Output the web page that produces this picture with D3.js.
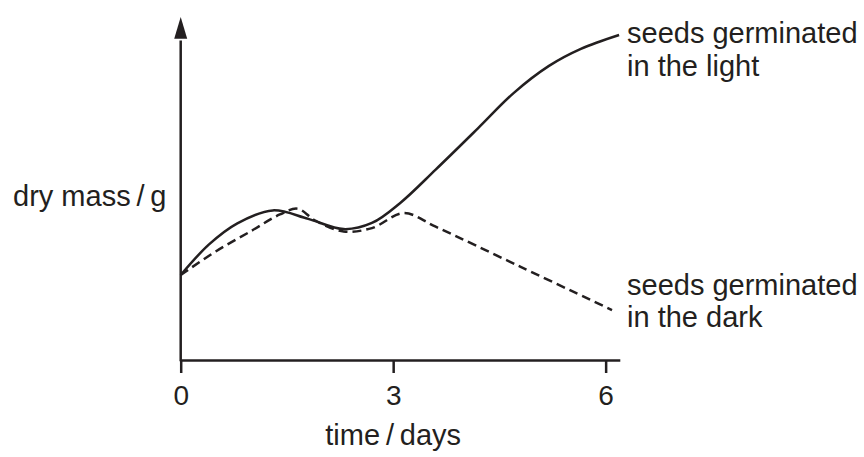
<!DOCTYPE html>
<html>
<head>
<meta charset="utf-8">
<script src="https://cdn.jsdelivr.net/npm/d3@7"></script>
<style>
  body { margin: 0; background: #fff; }
  text { font-family: "Liberation Sans", Arial, Helvetica, sans-serif; fill: #231f20; }
</style>
</head>
<body>
<div id="chart"></div>
<script>
// values (time in days, dry mass in arbitrary units)
const lightDays = [0, 0.4, 0.8, 1.3, 1.8, 2.3, 2.7, 3.1, 3.6, 4.2, 4.7, 5.2, 5.65, 6.19];
const lightMass = [2.5, 3.4, 4.02, 4.4, 4.15, 3.85, 4.03, 4.62, 5.6, 6.82, 7.85, 8.65, 9.15, 9.56];
const darkDays = [0, 0.5, 1.0, 1.4, 1.65, 1.9, 2.3, 2.7, 3.15, 3.6, 4.8, 6.09];
const darkMass = [2.5, 3.2, 3.8, 4.28, 4.45, 4.1, 3.78, 3.88, 4.32, 3.92, 2.74, 1.47];
const xTicks = [0, 3, 6];
const lightLabel = ["seeds germinated", "in the light"];
const darkLabel = ["seeds germinated", "in the dark"];

const ink = "#231f20";
const width = 864, height = 457;

const svg = d3.select("#chart")
  .append("svg")
    .attr("width", width)
    .attr("height", height);

const x = d3.scaleLinear().domain([0, 6.2]).range([180.7, 619.8]);
const y = d3.scaleLinear().domain([0, 10]).range([360, 20]);

// x axis
const xAxis = svg.append("g")
  .attr("transform", `translate(0,${y(0)})`)
  .call(d3.axisBottom(x).tickValues(xTicks).tickFormat(d3.format("d"))
    .tickSize(13).tickSizeOuter(0).tickPadding(12));
xAxis.select(".domain").attr("stroke", ink).attr("stroke-width", 2.5);
xAxis.selectAll(".tick line").attr("stroke", ink).attr("stroke-width", 2.5);
xAxis.selectAll(".tick text")
  .attr("fill", ink)
  .style("font-size", "28px")
  .style("font-family", "'Liberation Sans', Arial, sans-serif");

// y axis with arrow head
svg.append("line")
  .attr("x1", x(0)).attr("x2", x(0))
  .attr("y1", y(0) + 1.2).attr("y2", y(9.4))
  .attr("stroke", ink).attr("stroke-width", 2.5);
svg.append("path")
  .attr("d", `M${x(0)},${y(10.09)} L${x(0) - 6.5},${y(9.45)} L${x(0) + 6.5},${y(9.45)} Z`)
  .attr("fill", ink);

// curves
const line = d3.line()
  .x(d => x(d[0]))
  .y(d => y(d[1]))
  .curve(d3.curveCatmullRom.alpha(0.5));

svg.append("path")
  .datum(d3.zip(lightDays, lightMass))
  .attr("d", line)
  .attr("fill", "none")
  .attr("stroke", ink)
  .attr("stroke-width", 2.5);

svg.append("path")
  .datum(d3.zip(darkDays, darkMass))
  .attr("d", line)
  .attr("fill", "none")
  .attr("stroke", ink)
  .attr("stroke-width", 2.5)
  .attr("stroke-dasharray", "9,5");

// axis titles
svg.append("text")
  .attr("x", 13).attr("y", 206)
  .style("font-size", "29px")
  .text("dry mass\u2009/\u2009g");

svg.append("text")
  .attr("x", x(3)).attr("y", 445)
  .attr("text-anchor", "middle")
  .style("font-size", "29px")
  .text("time\u2009/\u2009days");

// curve labels
svg.append("text")
  .attr("x", 627).attr("y", 43)
  .style("font-size", "29px")
  .selectAll("tspan")
  .data(lightLabel)
  .join("tspan")
    .attr("x", 627)
    .attr("dy", (d, i) => i ? 33 : 0)
    .text(d => d);

svg.append("text")
  .attr("x", 627).attr("y", 295)
  .style("font-size", "29px")
  .selectAll("tspan")
  .data(darkLabel)
  .join("tspan")
    .attr("x", 627)
    .attr("dy", (d, i) => i ? 32 : 0)
    .text(d => d);
</script>
</body>
</html>
